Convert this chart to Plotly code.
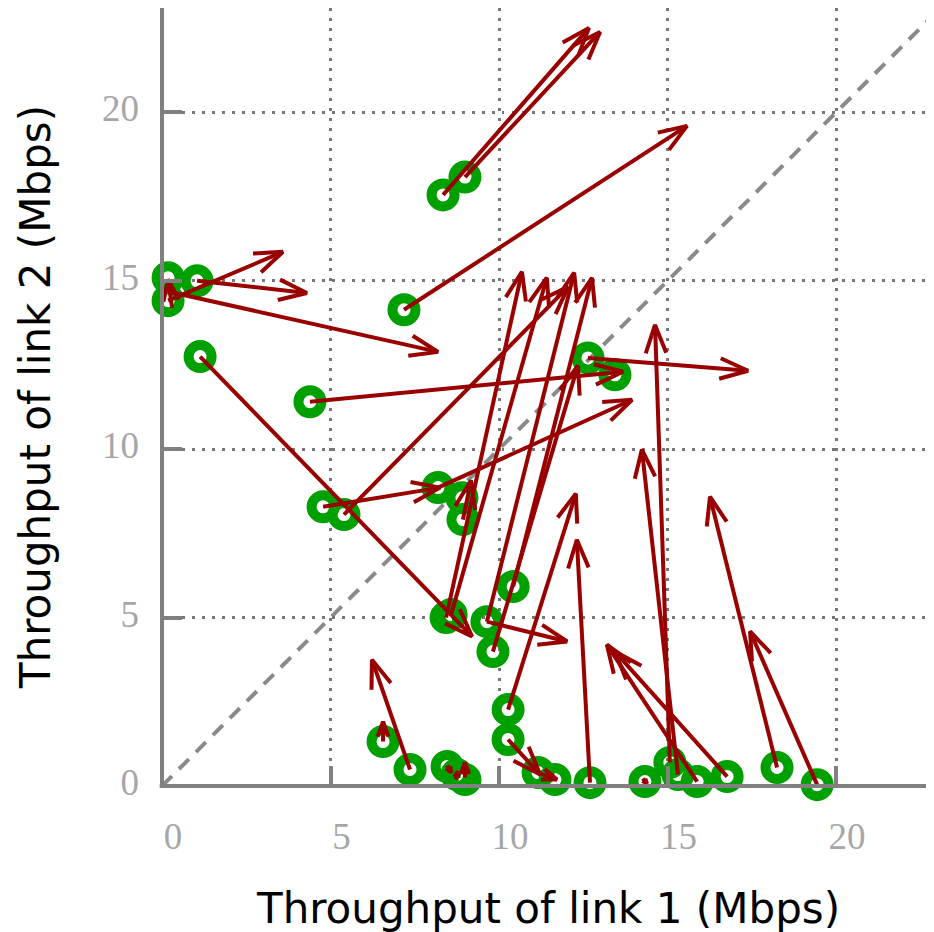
import math
import plotly.graph_objects as go

# ---------------- data ----------------
circ_x = [0.18, 0.18, 1.04, 1.13, 7.18, 4.39, 8.34, 8.99, 4.78, 5.40,
          8.19, 8.90, 8.93, 8.43, 8.58, 9.64, 9.82, 10.42, 12.64, 13.44,
          6.56, 7.36, 8.46, 8.75, 8.99, 10.27, 10.27, 11.16, 11.66, 12.70,
          14.33, 15.07, 15.31, 15.88, 16.77, 18.25, 19.44]
circ_y = [15.09, 14.41, 15.00, 12.75, 14.14, 11.41, 17.55, 18.08, 8.29, 8.06,
          8.86, 8.56, 7.91, 5.00, 5.09, 4.88, 3.99, 5.92, 12.71, 12.21,
          1.32, 0.49, 0.58, 0.34, 0.19, 2.27, 1.38, 0.40, 0.19, 0.10,
          0.13, 0.70, 0.34, 0.13, 0.28, 0.55, 0.04]

arrow_x0 = [8.34, 8.99, 7.18, 0.18, 1.04, 0.24, 0.30, 1.13, 4.39, 4.78,
            8.19, 5.40, 8.93, 8.43, 8.58, 9.64, 10.42, 9.82, 9.64, 10.27,
            10.27, 11.16, 12.70, 6.56, 7.36, 8.46, 8.72, 8.99, 14.27, 15.07,
            15.31, 15.88, 16.77, 18.25, 19.44, 12.64]
arrow_y0 = [17.55, 18.08, 14.14, 14.41, 15.00, 14.67, 14.20, 12.75, 11.41, 8.29,
            8.86, 8.06, 7.91, 5.00, 5.09, 4.88, 5.92, 3.99, 4.88, 2.27,
            1.38, 0.40, 0.10, 1.32, 0.49, 0.61, 0.19, 0.25, 0.22, 0.70,
            0.34, 0.13, 0.28, 0.55, 0.04, 12.71]
arrow_x1 = [12.67, 13.00, 15.58, 3.59, 4.30, 8.19, 0.18, 9.20, 13.68, 8.25,
            13.95, 12.05, 9.17, 10.68, 11.42, 12.23, 12.76, 12.34, 12.02, 12.28,
            11.22, 11.72, 12.31, 6.56, 6.23, 8.58, 8.78, 8.99, 14.39, 14.63,
            14.24, 13.20, 13.44, 16.26, 17.45, 17.39]
arrow_y1 = [22.51, 22.39, 19.60, 15.86, 14.64, 12.89, 15.04, 4.44, 12.30, 8.86,
            11.47, 14.82, 9.07, 15.27, 15.09, 15.24, 15.09, 12.48, 4.29, 8.68,
            0.34, 0.19, 7.31, 1.91, 3.75, 0.40, 0.43, 0.70, 0.07, 13.69,
            9.99, 4.20, 3.99, 8.59, 4.59, 12.33]

tick_vals = [0, 5, 10, 15, 20]
tick_text = ["0", "5", "10", "15", "20"]

x_title = "Throughput of link 1 (Mbps)"
y_title = "Throughput of link 2 (Mbps)"

# ---------------- layout constants ----------------
# the page body has an 8px margin, so the figure is sized/offset accordingly
W, H = 926, 924
ML, MR, MT, MB = 154, 0, 0, 145.5
PX_PER_UNIT = 33.7
plot_w = W - ML - MR
plot_h = H - MT - MB
x_max = plot_w / PX_PER_UNIT
y_max = plot_h / PX_PER_UNIT
sx = plot_w / x_max
sy = plot_h / y_max

ARROW_COLOR = "#990000"
GREEN = "#00a000"
GRAY = "#808080"
HEAD_LEN = 30.0
HEAD_ANG = math.radians(20)

# build arrow shafts + open heads (computed in pixel space, converted back)
lx, ly = [], []
for x0, y0, x1, y1 in zip(arrow_x0, arrow_y0, arrow_x1, arrow_y1):
    dxp = (x1 - x0) * sx
    dyp = (y1 - y0) * sy
    length = math.hypot(dxp, dyp)
    lx += [x0, x1, None]
    ly += [y0, y1, None]
    if length == 0:
        continue
    hl = min(HEAD_LEN, 0.8 * length)
    ux, uy = -dxp / length, -dyp / length
    pts = []
    for s in (1, -1):
        a = s * HEAD_ANG
        rx = ux * math.cos(a) - uy * math.sin(a)
        ry = ux * math.sin(a) + uy * math.cos(a)
        pts.append((x1 + rx * hl / sx, y1 + ry * hl / sy))
    lx += [pts[0][0], x1, pts[1][0], None]
    ly += [pts[0][1], y1, pts[1][1], None]

fig = go.Figure()
fig.add_trace(go.Scatter(
    x=circ_x, y=circ_y, mode="markers", cliponaxis=False,
    marker=dict(symbol="circle-open", size=23, color=GREEN,
                line=dict(width=10, color=GREEN)),
    hoverinfo="skip", showlegend=False))
fig.add_trace(go.Scatter(
    x=lx, y=ly, mode="lines", cliponaxis=False,
    line=dict(color=ARROW_COLOR, width=4),
    hoverinfo="skip", showlegend=False))

tick_font = dict(family="Liberation Serif", size=37, color="#a6a6aa")
axis_common = dict(
    tickmode="array", tickvals=tick_vals, ticktext=tick_text,
    ticks="inside", ticklen=20, tickwidth=4, tickcolor=GRAY,
    showgrid=True, gridcolor="#777777", gridwidth=2.5, griddash="2.5px,7.5px",
    zeroline=False, showline=False, tickfont=tick_font,
)
fig.update_layout(
    width=W, height=H,
    margin=dict(l=ML, r=MR, t=MT, b=MB, pad=0),
    paper_bgcolor="white", plot_bgcolor="white",
    xaxis=dict(range=[0, x_max], ticklabelshift=11, ticklabelstandoff=25,
               **axis_common),
    yaxis=dict(range=[0, y_max], ticklabelshift=-4, ticklabelstandoff=22,
               **axis_common),
    shapes=[
        dict(type="line", xref="x", yref="y", x0=0, y0=0, x1=x_max, y1=x_max,
             line=dict(color="#8a8a8a", width=4, dash="14px,10px"), layer="below"),
        dict(type="line", xref="paper", yref="paper", x0=0, x1=0, y0=0, y1=1.0,
             line=dict(color=GRAY, width=4), layer="above"),
        dict(type="line", xref="paper", yref="paper", x0=-0.003, x1=1.0, y0=0, y1=0,
             line=dict(color=GRAY, width=4), layer="above"),
    ],
    annotations=[
        dict(text=x_title, xref="paper", yref="paper", x=0.5, y=0,
             xanchor="center", yanchor="middle", yshift=-122, showarrow=False,
             font=dict(family="DejaVu Sans", size=42, color="black")),
        dict(text=y_title, xref="paper", yref="paper", x=0, y=0.5,
             xanchor="center", yanchor="middle", xshift=-127, textangle=-90,
             showarrow=False,
             font=dict(family="DejaVu Sans", size=42, color="black")),
    ],
)
fig.write_html("out.html")
